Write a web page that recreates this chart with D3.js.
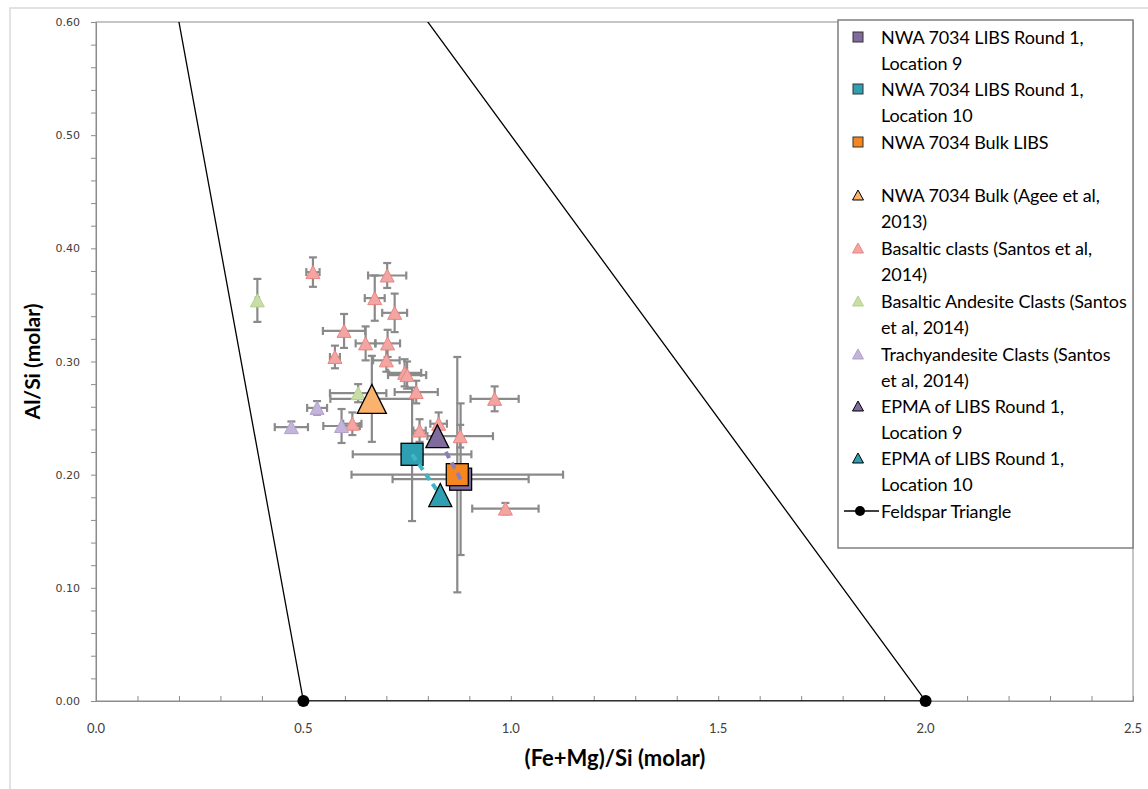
<!DOCTYPE html>
<html>
<head>
<meta charset="utf-8">
<script src="https://cdn.jsdelivr.net/npm/d3@7"></script>
<style>
body { margin: 0; background: #fff; }
text { font-family: Lato, "Open Sans", sans-serif; }
</style>
</head>
<body>
<div id="my_dataviz"></div>
<script>
// chart size
var width = 1148
var height = 789

// Basaltic clasts (Santos et al, 2014)
var basX = [0.523, 0.702, 0.672, 0.720, 0.598, 0.650, 0.703, 0.576, 0.700, 0.744, 0.750, 0.772, 0.618, 0.780, 0.826, 0.878, 0.961, 0.987]
var basY = [0.379, 0.376, 0.356, 0.343, 0.327, 0.316, 0.316, 0.304, 0.301, 0.290, 0.288, 0.273, 0.245, 0.239, 0.245, 0.234, 0.267, 0.170]
var basXErr = [0.016, 0.046, 0.024, 0.030, 0.051, 0.024, 0.030, 0.012, 0.032, 0.040, 0.046, 0.052, 0.022, 0.015, 0.020, 0.079, 0.058, 0.080]
var basYErr = [0.013, 0.011, 0.020, 0.017, 0.015, 0.015, 0.012, 0.010, 0.010, 0.012, 0.012, 0.010, 0.010, 0.010, 0.010, 0.010, 0.011, 0.005]

// Basaltic Andesite Clasts
var andX = [0.389, 0.632]
var andY = [0.354, 0.272]
var andXErr = [0.004, 0.068]
var andYErr = [0.019, 0.008]

// Trachyandesite Clasts
var traX = [0.533, 0.471, 0.592]
var traY = [0.259, 0.242, 0.243]
var traXErr = [0.024, 0.040, 0.044]
var traYErr = [0.006, 0.005, 0.015]

// NWA 7034 Bulk (Agee et al, 2013)
var ageeX = [0.665], ageeY = [0.267], ageeXErr = [0.100], ageeYErr = [0.038]

// LIBS squares: location 9, location 10, bulk
var libsX = [0.879, 0.762, 0.871]
var libsY = [0.196, 0.218, 0.200]
var libsXErr = [0.164, 0.143, 0.255]
var libsYErr = [0.067, 0.059, 0.104]

// EPMA triangles: location 9, location 10
var epmaX = [0.823, 0.830]
var epmaY = [0.234, 0.182]

// feldspar triangle vertices
var felX = [0.0, 0.5, 2.0, 0.0]
var felY = [1.0, 0.0, 0.0, 1.0]

var xTicks = [0, 0.5, 1.0, 1.5, 2.0, 2.5]
var yTicks = [0, 0.1, 0.2, 0.3, 0.4, 0.5, 0.6]

var legendNames = [
  ["NWA 7034 LIBS Round 1,", "Location 9"],
  ["NWA 7034 LIBS Round 1,", "Location 10"],
  ["NWA 7034 Bulk LIBS"],
  [],
  ["NWA 7034 Bulk (Agee et al,", "2013)"],
  ["Basaltic clasts (Santos et al,", "2014)"],
  ["Basaltic Andesite Clasts (Santos", "et al, 2014)"],
  ["Trachyandesite Clasts (Santos", "et al, 2014)"],
  ["EPMA of LIBS Round 1,", "Location 9"],
  ["EPMA of LIBS Round 1,", "Location 10"],
  ["Feldspar Triangle"]
]

var colPurple = "#7f6b9c", colTeal = "#2fa0b2", colOrange = "#f6871f"

var svg = d3.select("#my_dataviz")
  .append("svg")
  .attr("width", width)
  .attr("height", height)

var x = d3.scaleLinear().domain([0, 2.5]).range([96, 1133])
var y = d3.scaleLinear().domain([0, 0.6]).range([701, 22])

// outer chart border
svg.append("rect")
  .attr("x", 10).attr("y", 8)
  .attr("width", 1160).attr("height", 800)
  .attr("fill", "none").attr("stroke", "#d9d9d9").attr("stroke-width", 1.5)

// plot area frame
svg.append("rect")
  .attr("x", x(0)).attr("y", y(0.6))
  .attr("width", x(2.5) - x(0)).attr("height", y(0) - y(0.6))
  .attr("fill", "none").attr("stroke", "#8c8c8c").attr("stroke-width", 1)

// axes with minor ticks
var yAxis = d3.axisLeft(y)
  .tickValues(d3.range(0, 0.6001, 0.02))
  .tickSize(5).tickFormat("")
svg.append("g").attr("transform", "translate(" + x(0) + ",0)").call(yAxis)

var xAxis = d3.axisTop(x)
  .tickValues(d3.range(0, 2.5001, 0.1))
  .tickSize(5).tickFormat("")
svg.append("g").attr("transform", "translate(0," + y(0) + ")").call(xAxis)

svg.selectAll(".domain").attr("stroke", "#8c8c8c")
svg.selectAll(".tick line").attr("stroke", "#8c8c8c")

// tick labels
svg.selectAll(".ylab")
  .data(yTicks).enter()
  .append("text")
  .attr("x", 80).attr("y", function(d) { return y(d) + 4 })
  .attr("text-anchor", "end")
  .style("font-family", "'DejaVu Sans', sans-serif")
  .style("font-size", "11px").attr("fill", "#404040")
  .text(function(d) { return d.toFixed(2) })

svg.selectAll(".xlab")
  .data(xTicks).enter()
  .append("text")
  .attr("x", function(d) { return x(d) }).attr("y", 733)
  .attr("text-anchor", "middle")
  .style("font-size", "13px").attr("fill", "#404040")
  .text(function(d) { return d.toFixed(1) })

// axis titles
svg.append("text")
  .attr("transform", "translate(40," + ((y(0) + y(0.6)) / 2) + ") rotate(-90)")
  .attr("text-anchor", "middle")
  .style("font-size", "21px").style("font-weight", "bold")
  .text("Al/Si (molar)")

svg.append("text")
  .attr("x", 615).attr("y", 766)
  .attr("text-anchor", "middle")
  .style("font-size", "22px").style("font-weight", "bold")
  .text("(Fe+Mg)/Si (molar)")

// clip for the plot area
svg.append("clipPath").attr("id", "plotclip")
  .append("rect")
  .attr("x", x(0)).attr("y", y(0.6))
  .attr("width", x(2.5) - x(0)).attr("height", y(0) - y(0.6))

var plot = svg.append("g").attr("clip-path", "url(#plotclip)")

// feldspar triangle
var felPts = felX.map(function(v, i) { return [v, felY[i]] })
plot.append("path")
  .datum(felPts)
  .attr("d", d3.line().x(function(d) { return x(d[0]) }).y(function(d) { return y(d[1]) }))
  .attr("fill", "none").attr("stroke", "#000").attr("stroke-width", 1.3)

// error bars
function pack(xs, ys, xe, ye) {
  return xs.map(function(v, i) { return { x: v, y: ys[i], xe: xe ? xe[i] : 0, ye: ye ? ye[i] : 0 } })
}
var basData = pack(basX, basY, basXErr, basYErr)
var andData = pack(andX, andY, andXErr, andYErr)
var traData = pack(traX, traY, traXErr, traYErr)
var ageeData = pack(ageeX, ageeY, ageeXErr, ageeYErr)
var libsData = pack(libsX, libsY, libsXErr, libsYErr)
var epmaData = pack(epmaX, epmaY)

function errorBars(data) {
  var g = plot.append("g").attr("stroke", "#8a8a8a").attr("stroke-width", 2.2)
  data.forEach(function(d) {
    var cx = x(d.x), cy = y(d.y)
    if (d.xe > 0) {
      var x0 = x(d.x - d.xe), x1 = x(d.x + d.xe)
      g.append("line").attr("x1", x0).attr("x2", x1).attr("y1", cy).attr("y2", cy)
      g.append("line").attr("x1", x0).attr("x2", x0).attr("y1", cy - 4).attr("y2", cy + 4)
      g.append("line").attr("x1", x1).attr("x2", x1).attr("y1", cy - 4).attr("y2", cy + 4)
    }
    if (d.ye > 0) {
      var y0 = y(d.y - d.ye), y1 = y(d.y + d.ye)
      g.append("line").attr("x1", cx).attr("x2", cx).attr("y1", y0).attr("y2", y1)
      g.append("line").attr("x1", cx - 4).attr("x2", cx + 4).attr("y1", y0).attr("y2", y0)
      g.append("line").attr("x1", cx - 4).attr("x2", cx + 4).attr("y1", y1).attr("y2", y1)
    }
  })
}
errorBars(libsData)
errorBars(ageeData)
errorBars(basData)
errorBars(andData)
errorBars(traData)

// triangle path, centred on its box
function tri(w, h) {
  return "M0," + (-h / 2) + "L" + (w / 2) + "," + (h / 2) + "L" + (-w / 2) + "," + (h / 2) + "Z"
}

function triangles(data, w, h, fill, stroke, sw) {
  plot.append("g").selectAll("path")
    .data(data).enter()
    .append("path")
    .attr("d", tri(w, h))
    .attr("transform", function(d) { return "translate(" + x(d.x) + "," + y(d.y) + ")" })
    .attr("fill", fill).attr("stroke", stroke).attr("stroke-width", sw)
}

triangles(basData, 14, 13, "#f2a5a3", "#e9857f", 1)
triangles(andData, 14, 13, "#c9dda6", "#b7d18e", 1)
triangles(traData, 14, 13, "#c3b4d9", "#b3a1cf", 1)
triangles(ageeData, 29, 29, "#fbb26c", "#000", 1.3)

// LIBS squares
var sqColors = [colPurple, colTeal, colOrange]
plot.append("g").selectAll("rect")
  .data(libsData).enter()
  .append("rect")
  .attr("x", function(d) { return x(d.x) - 11 })
  .attr("y", function(d) { return y(d.y) - 11 })
  .attr("width", 22).attr("height", 22)
  .attr("fill", function(d, i) { return sqColors[i] })
  .attr("stroke", "#000").attr("stroke-width", 1.3)

// dashed tie lines LIBS -> EPMA
var tieColors = ["#8f7db8", "#3fb5c6"]
epmaData.forEach(function(d, i) {
  plot.append("line")
    .attr("x1", x(libsData[i].x)).attr("y1", y(libsData[i].y))
    .attr("x2", x(d.x)).attr("y2", y(d.y))
    .attr("stroke", tieColors[i]).attr("stroke-width", 4)
    .attr("stroke-dasharray", "7,5")
})

// EPMA triangles
plot.append("g").selectAll("path")
  .data(epmaData).enter()
  .append("path")
  .attr("d", tri(23, 23))
  .attr("transform", function(d) { return "translate(" + x(d.x) + "," + y(d.y) + ")" })
  .attr("fill", function(d, i) { return [colPurple, colTeal][i] })
  .attr("stroke", "#000").attr("stroke-width", 1.3)

// feldspar markers (only the ones inside the axis range, not clipped)
svg.append("g").selectAll("circle")
  .data(felPts.filter(function(d) { return d[1] <= 0.6 })).enter()
  .append("circle")
  .attr("cx", function(d) { return x(d[0]) })
  .attr("cy", function(d) { return y(d[1]) })
  .attr("r", 6).attr("fill", "#000")

// legend
var legend = svg.append("g")
legend.append("rect")
  .attr("x", 838).attr("y", 20)
  .attr("width", 295).attr("height", 528)
  .attr("fill", "#fff").attr("stroke", "#7f7f7f").attr("stroke-width", 1.5)

var rowY = [37, 89, 142, 168, 195, 248, 301, 354, 406, 458, 511]
var symKind = ["sq", "sq", "sq", "", "tri", "tri", "tri", "tri", "tri", "tri", "line"]
var symFill = [colPurple, colTeal, colOrange, "", "#fbb26c", "#f2a5a3", "#c9dda6", "#c3b4d9", colPurple, colTeal, "#000"]
var symStroke = ["#333", "#333", "#333", "", "#000", "#e9857f", "#b7d18e", "#b3a1cf", "#000", "#000", "#000"]

legendNames.forEach(function(lines, i) {
  var ly = rowY[i]
  if (symKind[i] == "sq") {
    legend.append("rect").attr("x", 853).attr("y", ly - 5).attr("width", 10).attr("height", 10)
      .attr("fill", symFill[i]).attr("stroke", symStroke[i]).attr("stroke-width", 1)
  } else if (symKind[i] == "tri") {
    legend.append("path").attr("d", tri(11, 10))
      .attr("transform", "translate(858," + ly + ")")
      .attr("fill", symFill[i]).attr("stroke", symStroke[i]).attr("stroke-width", 1)
  } else if (symKind[i] == "line") {
    legend.append("line").attr("x1", 844).attr("x2", 879).attr("y1", ly).attr("y2", ly)
      .attr("stroke", "#000").attr("stroke-width", 1.3)
    legend.append("circle").attr("cx", 860).attr("cy", ly).attr("r", 5).attr("fill", "#000")
  }
  lines.forEach(function(t, j) {
    legend.append("text")
      .attr("x", 881).attr("y", ly + 7 + j * 26)
      .style("font-size", "18px").style("letter-spacing", "-0.1px")
      .attr("fill", "#000")
      .text(t)
  })
})
</script>
</body>
</html>
